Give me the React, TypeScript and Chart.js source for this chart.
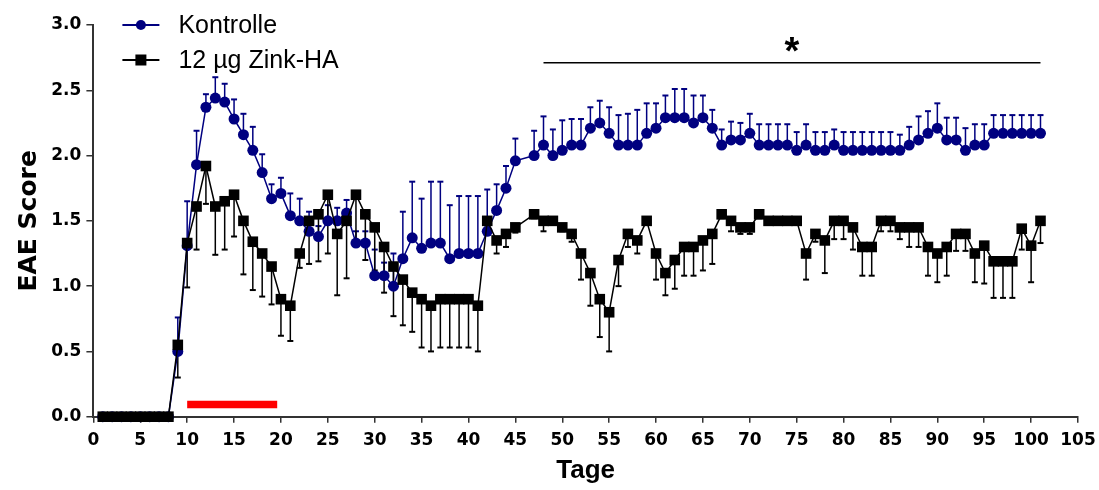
import React, { useEffect, useRef } from 'react';
import { Chart, registerables } from 'chart.js';

Chart.register(...registerables);

// Days of measurement (day 46 was not recorded)
const days = [
  1, 2, 3, 4, 5, 6, 7, 8, 9, 10, 11, 12, 13, 14, 15, 16, 17, 18, 19, 20,
  21, 22, 23, 24, 25, 26, 27, 28, 29, 30, 31, 32, 33, 34, 35, 36, 37, 38, 39, 40,
  41, 42, 43, 44, 45, 47, 48, 49, 50, 51, 52, 53, 54, 55, 56, 57, 58, 59, 60,
  61, 62, 63, 64, 65, 66, 67, 68, 69, 70, 71, 72, 73, 74, 75, 76, 77, 78, 79, 80,
  81, 82, 83, 84, 85, 86, 87, 88, 89, 90, 91, 92, 93, 94, 95, 96, 97, 98, 99, 100, 101,
];

const kontrolle = [
  0, 0, 0, 0, 0, 0, 0, 0, 0.5, 1.31, 1.93, 2.37, 2.44, 2.41, 2.28, 2.16, 2.04, 1.87, 1.67, 1.71,
  1.54, 1.5, 1.42, 1.38, 1.5, 1.5, 1.56, 1.33, 1.33, 1.08, 1.08, 1.0, 1.21, 1.37, 1.29, 1.33, 1.33, 1.21, 1.25, 1.25,
  1.25, 1.42, 1.58, 1.75, 1.96, 2.0, 2.08, 2.0, 2.04, 2.08, 2.08, 2.21, 2.25, 2.17, 2.08, 2.08, 2.08, 2.17, 2.21,
  2.29, 2.29, 2.29, 2.25, 2.29, 2.21, 2.08, 2.12, 2.12, 2.17, 2.08, 2.08, 2.08, 2.08, 2.04, 2.08, 2.04, 2.04, 2.08, 2.04,
  2.04, 2.04, 2.04, 2.04, 2.04, 2.04, 2.08, 2.12, 2.17, 2.21, 2.12, 2.12, 2.04, 2.08, 2.08, 2.17, 2.17, 2.17, 2.17, 2.17, 2.17,
];

const kontrolleSem = [
  0, 0, 0, 0, 0, 0, 0, 0, 0.26, 0.34, 0.26, 0.1, 0.16, 0.14, 0.15, 0.16, 0.18, 0.14, 0.11, 0.12,
  0.17, 0.17, 0.15, 0.08, 0.12, 0.1, 0.1, 0.09, 0.09, 0.2, 0.1, 0.25, 0.36, 0.43, 0.38, 0.47, 0.47, 0.41, 0.44, 0.44,
  0.44, 0.32, 0.2, 0.17, 0.17, 0.19, 0.22, 0.2, 0.23, 0.2, 0.2, 0.16, 0.17, 0.2, 0.23, 0.24, 0.27, 0.23, 0.19,
  0.17, 0.22, 0.22, 0.21, 0.17, 0.14, 0.12, 0.14, 0.13, 0.15, 0.16, 0.16, 0.16, 0.16, 0.14, 0.16, 0.14, 0.14, 0.12, 0.14,
  0.14, 0.14, 0.14, 0.14, 0.14, 0.12, 0.14, 0.18, 0.17, 0.19, 0.17, 0.17, 0.17, 0.16, 0.16, 0.14, 0.14, 0.14, 0.14, 0.14, 0.14,
];

const zink = [
  0, 0, 0, 0, 0, 0, 0, 0, 0.55, 1.33, 1.61, 1.92, 1.61, 1.65, 1.7, 1.5, 1.34, 1.25, 1.15, 0.9,
  0.85, 1.25, 1.5, 1.55, 1.7, 1.4, 1.5, 1.7, 1.55, 1.45, 1.3, 1.15, 1.05, 0.95, 0.9, 0.85, 0.9, 0.9, 0.9, 0.9,
  0.85, 1.5, 1.35, 1.4, 1.45, 1.55, 1.5, 1.5, 1.45, 1.4, 1.25, 1.1, 0.9, 0.8, 1.2, 1.4, 1.35, 1.5, 1.25,
  1.1, 1.2, 1.3, 1.3, 1.35, 1.4, 1.55, 1.5, 1.45, 1.45, 1.55, 1.5, 1.5, 1.5, 1.5, 1.25, 1.4, 1.35, 1.5, 1.5,
  1.45, 1.3, 1.3, 1.5, 1.5, 1.45, 1.45, 1.45, 1.3, 1.25, 1.3, 1.4, 1.4, 1.25, 1.31, 1.19, 1.19, 1.19, 1.44, 1.31, 1.5,
];

const zinkSem = [
  0, 0, 0, 0, 0, 0, 0, 0, 0.25, 0.34, 0.33, 0.29, 0.37, 0.37, 0.32, 0.41, 0.37, 0.33, 0.29, 0.28,
  0.27, 0.11, 0.33, 0.36, 0.45, 0.47, 0.44, 0.36, 0.35, 0.33, 0.35, 0.38, 0.35, 0.3, 0.37, 0.35, 0.37, 0.37, 0.37, 0.37,
  0.35, 0.05, 0.1, 0.1, 0.04, 0.03, 0.08, 0.03, 0.03, 0.06, 0.2, 0.25, 0.29, 0.3, 0.2, 0.1, 0.1, 0.03, 0.2,
  0.17, 0.22, 0.22, 0.22, 0.23, 0.23, 0.03, 0.08, 0.05, 0.05, 0.03, 0.03, 0.03, 0.03, 0.03, 0.2, 0.06, 0.25, 0.14, 0.14,
  0.17, 0.22, 0.22, 0.08, 0.08, 0.09, 0.15, 0.15, 0.22, 0.22, 0.22, 0.13, 0.13, 0.22, 0.29, 0.28, 0.28, 0.28, 0.16, 0.28, 0.17,
];

const seriesNames = ['Kontrolle', '12 µg Zink-HA'];
const xTickValues = [0, 5, 10, 15, 20, 25, 30, 35, 40, 45, 50, 55, 60, 65, 70, 75, 80, 85, 90, 95, 100, 105];
const yTickValues = [0, 0.5, 1.0, 1.5, 2.0, 2.5, 3.0];
const xTitle = 'Tage';
const yTitle = 'EAE Score';

// significance bracket and treatment period bar
const sigDays = [48, 101];
const sigLevel = 2.71;
const sigMark = '*';
const treatmentDays = [10, 19.6];
const treatmentLevel = 0.093;

const NAVY = '#000080';
const BLACK = '#000000';

const errorBarsPlugin = {
  id: 'errorBars',
  beforeDatasetsDraw(chart: any) {
    const { ctx, scales } = chart;
    const x = scales.x;
    const y = scales.y;
    const draw = (vals: number[], errs: number[], dir: number, color: string) => {
      ctx.save();
      ctx.strokeStyle = color;
      days.forEach((d, i) => {
        const e = errs[i];
        if (!e) return;
        const px = x.getPixelForValue(d);
        const p0 = y.getPixelForValue(vals[i]);
        const p1 = y.getPixelForValue(vals[i] + dir * e);
        ctx.lineWidth = 1.5;
        ctx.beginPath();
        ctx.moveTo(px, p0);
        ctx.lineTo(px, p1);
        ctx.stroke();
        ctx.lineWidth = 2;
        ctx.beginPath();
        ctx.moveTo(px - 3, p1);
        ctx.lineTo(px + 3, p1);
        ctx.stroke();
      });
      ctx.restore();
    };
    draw(kontrolle, kontrolleSem, 1, NAVY);
    draw(zink, zinkSem, -1, BLACK);
  },
};

const legendPlugin = {
  id: 'customLegend',
  afterDraw(chart: any) {
    const { ctx, scales } = chart;
    const x = scales.x;
    const y = scales.y;
    ctx.save();
    // asterisk above significance line
    ctx.fillStyle = BLACK;
    ctx.font = 'bold 38px "Liberation Sans", Arial, sans-serif';
    ctx.textAlign = 'center';
    ctx.textBaseline = 'middle';
    const sx = x.getPixelForValue((sigDays[0] + sigDays[1]) / 2);
    const sy = y.getPixelForValue(sigLevel);
    ctx.fillText(sigMark, sx, sy - 9);

    // legend
    const items = [
      { label: seriesNames[0], color: NAVY, style: 'circle' },
      { label: seriesNames[1], color: BLACK, style: 'rect' },
    ];
    const left = chart.chartArea.left;
    ctx.textAlign = 'left';
    ctx.font = '25px "Liberation Sans", Arial, sans-serif';
    items.forEach((it, i) => {
      const cy = 25 + i * 35;
      ctx.strokeStyle = it.color;
      ctx.lineWidth = 2;
      ctx.beginPath();
      ctx.moveTo(left + 29, cy);
      ctx.lineTo(left + 66, cy);
      ctx.stroke();
      ctx.fillStyle = it.color;
      if (it.style === 'circle') {
        ctx.beginPath();
        ctx.arc(left + 47.5, cy, 5, 0, Math.PI * 2);
        ctx.fill();
      } else {
        ctx.fillRect(left + 47.5 - 5.5, cy - 5.5, 11, 11);
      }
      ctx.fillStyle = BLACK;
      ctx.fillText(it.label, left + 85, cy + 1);
    });
    ctx.restore();
  },
};

export default function App() {
  const canvasRef = useRef<HTMLCanvasElement | null>(null);

  useEffect(() => {
    const canvas = canvasRef.current;
    if (!canvas) return;
    const tickFont = { family: '"DejaVu Sans", sans-serif', weight: 'bold' as const, size: 17 };
    const chart = new Chart(canvas, {
      type: 'line',
      data: {
        datasets: [
          {
            label: seriesNames[1],
            data: days.map((d, i) => ({ x: d, y: zink[i] })),
            borderColor: BLACK,
            backgroundColor: BLACK,
            borderWidth: 1.5,
            pointStyle: 'rect',
            pointRadius: 7.5,
            pointBorderWidth: 0,
            pointBackgroundColor: BLACK,
            tension: 0,
            clip: false as any,
            order: 1,
          },
          {
            label: seriesNames[0],
            data: days.map((d, i) => ({ x: d, y: kontrolle[i] })),
            borderColor: NAVY,
            backgroundColor: NAVY,
            borderWidth: 1.5,
            pointStyle: 'circle',
            pointRadius: 5.5,
            pointBorderWidth: 0,
            pointBackgroundColor: NAVY,
            tension: 0,
            clip: false as any,
            order: 2,
          },
          {
            label: 'sig',
            data: sigDays.map((d) => ({ x: d, y: sigLevel })),
            borderColor: BLACK,
            borderWidth: 1.5,
            pointRadius: 0,
            clip: false as any,
            order: 3,
          },
          {
            label: 'treatment',
            data: treatmentDays.map((d) => ({ x: d, y: treatmentLevel })),
            borderColor: '#ff0000',
            borderWidth: 7.5,
            borderCapStyle: 'butt',
            pointRadius: 0,
            clip: false as any,
            order: 4,
          },
        ],
      },
      options: {
        animation: false,
        responsive: false,
        maintainAspectRatio: false,
        events: [],
        layout: { padding: { top: 25, right: 21, left: 0, bottom: 0 } },
        plugins: { legend: { display: false }, tooltip: { enabled: false } },
        scales: {
          x: {
            type: 'linear',
            min: 0,
            max: 105,
            afterBuildTicks: (s: any) => {
              s.ticks = xTickValues.map((v) => ({ value: v }));
            },
            ticks: {
              font: tickFont,
              color: BLACK,
              padding: 8,
              maxRotation: 0,
              autoSkip: false,
              callback: (v: any) => String(v),
            },
            grid: { drawOnChartArea: false, tickLength: 6, color: '#333333', lineWidth: 1.5 },
            border: { color: '#333333', width: 2 },
            title: {
              display: true,
              text: xTitle,
              color: BLACK,
              font: { family: '"Liberation Sans", Arial, sans-serif', weight: 'bold', size: 26 },
              padding: { top: 0, bottom: 4 },
            },
            afterFit: (s: any) => {
              s.height = 490 - 416.7;
              s.paddingLeft = 0;
              s.paddingRight = 0;
            },
          },
          y: {
            type: 'linear',
            min: 0,
            max: 3,
            afterBuildTicks: (s: any) => {
              s.ticks = yTickValues.map((v) => ({ value: v }));
            },
            ticks: {
              font: tickFont,
              color: BLACK,
              padding: 5,
              callback: (v: any) => Number(v).toFixed(1),
            },
            grid: { drawOnChartArea: false, tickLength: 7, color: '#333333', lineWidth: 1.5 },
            border: { color: '#333333', width: 2 },
            title: {
              display: true,
              text: yTitle,
              color: BLACK,
              font: { family: '"DejaVu Sans", sans-serif', weight: 'bold', size: 25 },
              padding: { top: 14, bottom: 0 },
            },
            afterFit: (s: any) => {
              s.width = 93.4;
              s.paddingTop = 0;
              s.paddingBottom = 0;
            },
          },
        },
      },
      plugins: [errorBarsPlugin, legendPlugin],
    });
    return () => chart.destroy();
  }, []);

  return (
    <div style={{ position: 'absolute', left: 0, top: 0, width: 1099, height: 490, background: '#fff' }}>
      <canvas ref={canvasRef} width={1099} height={490} style={{ width: 1099, height: 490, display: 'block' }} />
    </div>
  );
}
